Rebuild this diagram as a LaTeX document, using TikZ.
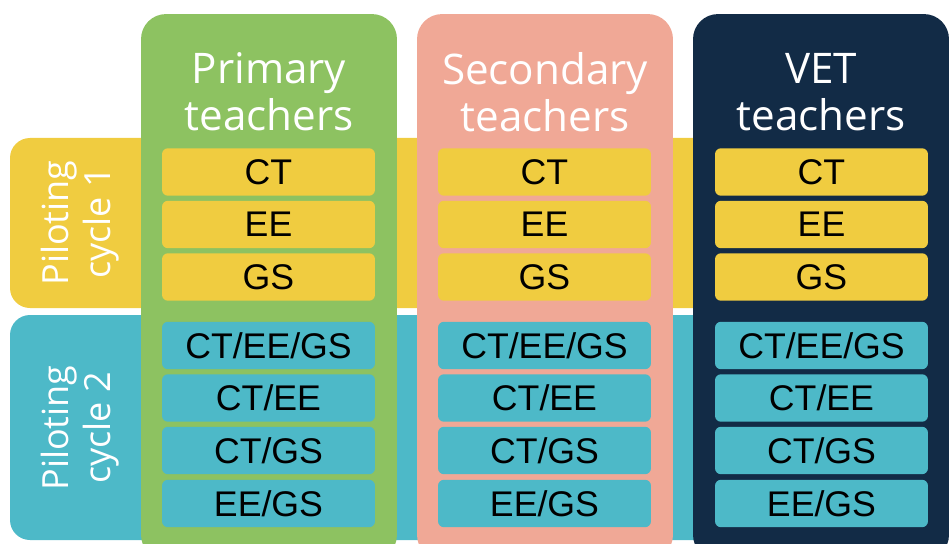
\documentclass[tikz,border=0pt]{standalone}
\usepackage{fontspec}
\setmainfont{Liberation Sans}
\newfontfamily\headfont{Open Sans}

\definecolor{primgreen}{RGB}{141,194,97}
\definecolor{secpink}{RGB}{240,168,150}
\definecolor{vetnavy}{RGB}{18,43,70}
\definecolor{cycyellow}{RGB}{240,204,64}
\definecolor{cycteal}{RGB}{77,185,200}

\tikzset{
  band/.style={rounded corners=0.4cm},
  column/.style={rounded corners=0.5cm, minimum width=5.12cm, minimum height=10.92cm, inner sep=0pt},
  header/.style={text=white, align=center, font=\headfont\fontsize{24}{26.6}\selectfont},
  sidelabel/.style={text=white, align=center, rotate=90, font=\headfont\fontsize{20.5}{24}\selectfont},
  topic/.style={rounded corners=0.12cm, minimum width=4.26cm, minimum height=0.95cm, inner sep=0pt,
    font=\fontsize{20.3}{24}\selectfont},
  c1/.style={topic, fill=cycyellow},
  c2/.style={topic, fill=cycteal}
}

\begin{document}
\begin{tikzpicture}[x=0.02cm,y=-0.02cm]

\useasboundingbox (0,0) rectangle (950,544);
\clip (0,0) rectangle (950,544);

% piloting cycles
\fill[band,cycyellow] (10,138) rectangle (940,308);
\fill[band,cycteal] (10,315) rectangle (940,540);

\node[sidelabel] (cycle1) at (80,223) {Piloting\\ cycle 1};
\node[sidelabel] (cycle2) at (80,428) {Piloting\\ cycle 2};

% teacher groups
\node[column,fill=primgreen] (primary) at (269,287) {};
\node[column,fill=secpink] (secondary) at (545,287) {};
\node[column,fill=vetnavy] (vet) at (821,287) {};

\node[header] (primaryhead) at (269,92) {Primary\\ teachers};
\node[header] (secondaryhead) at (545,92) {Secondary\\ teachers};
\node[header] (vethead) at (821,92) {VET\\ teachers};

% primary
\node[c1] (p1) at (268.5,172) {CT};
\node[c1] (p2) at (268.5,224.5) {EE};
\node[c1] (p3) at (268.5,277) {GS};
\node[c2] (p4) at (268.5,345.5) {CT/EE/GS};
\node[c2] (p5) at (268.5,398) {CT/EE};
\node[c2] (p6) at (268.5,450.5) {CT/GS};
\node[c2] (p7) at (268.5,503.5) {EE/GS};

% secondary
\node[c1] (s1) at (544.5,172) {CT};
\node[c1] (s2) at (544.5,224.5) {EE};
\node[c1] (s3) at (544.5,277) {GS};
\node[c2] (s4) at (544.5,345.5) {CT/EE/GS};
\node[c2] (s5) at (544.5,398) {CT/EE};
\node[c2] (s6) at (544.5,450.5) {CT/GS};
\node[c2] (s7) at (544.5,503.5) {EE/GS};

% vet
\node[c1] (v1) at (821.5,172) {CT};
\node[c1] (v2) at (821.5,224.5) {EE};
\node[c1] (v3) at (821.5,277) {GS};
\node[c2] (v4) at (821.5,345.5) {CT/EE/GS};
\node[c2] (v5) at (821.5,398) {CT/EE};
\node[c2] (v6) at (821.5,450.5) {CT/GS};
\node[c2] (v7) at (821.5,503.5) {EE/GS};

\end{tikzpicture}
\end{document}
